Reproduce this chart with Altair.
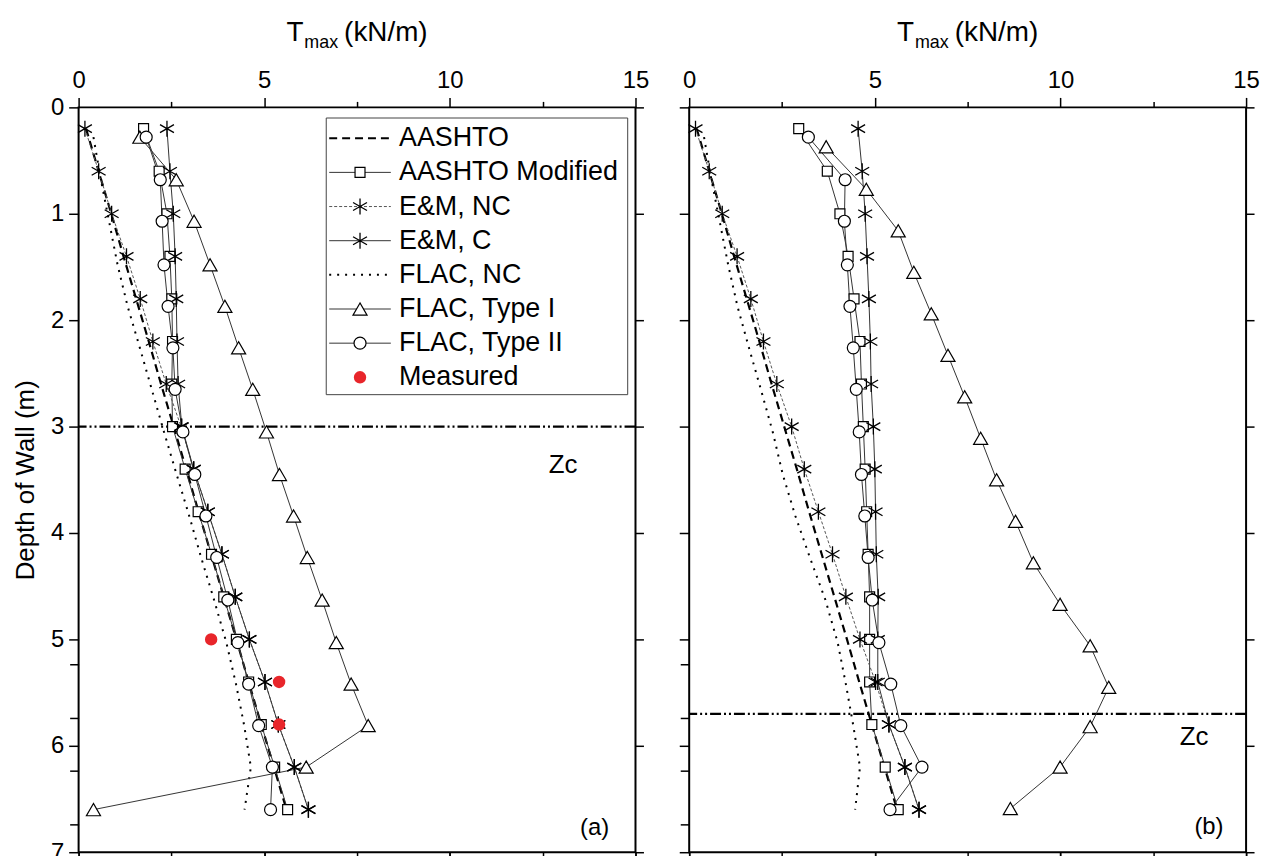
import altair as alt
import pandas as pd

FONT = "Liberation Sans"
W, H = 560, 749

# ---------------- data ----------------
depth_std = [0.2, 0.6, 1.0, 1.4, 1.8, 2.2, 2.6, 3.0, 3.4, 3.8, 4.2, 4.6, 5.0, 5.4, 5.8, 6.2, 6.6]
depth_flac = [0.28, 0.68, 1.07, 1.48, 1.87, 2.26, 2.65, 3.05, 3.45, 3.84, 4.23, 4.63, 5.03, 5.42, 5.81, 6.2, 6.6]
depth_tri_b = [0.37, 0.77, 1.16, 1.55, 1.94, 2.33, 2.72, 3.11, 3.5, 3.89, 4.28, 4.67, 5.06, 5.45, 5.82, 6.2, 6.59]
depth_meas = [5.0, 5.4, 5.8]

aashto = [0.2, 0.54, 0.88, 1.21, 1.55, 1.89, 2.22, 2.56, 2.9, 3.23, 3.57, 3.91, 4.25, 4.58, 4.92, 5.26, 5.6]
em_nc = [0.17, 0.54, 0.89, 1.29, 1.66, 2.0, 2.36, 2.76, 3.1, 3.48, 3.86, 4.22, 4.6, 5.02, 5.38, 5.81, 6.19]

aashto_mod_a = [1.75, 2.17, 2.38, 2.46, 2.51, 2.53, 2.51, 2.53, 2.87, 3.22, 3.58, 3.91, 4.25, 4.58, 4.92, 5.28, 5.63]
em_c_a = [2.38, 2.46, 2.55, 2.6, 2.63, 2.65, 2.68, 2.78, 3.1, 3.48, 3.86, 4.22, 4.6, 5.02, 5.38, 5.81, 6.19]
flac_nc_a = [0.40, 0.60, 0.82, 1.05, 1.32, 1.65, 1.97, 2.30, 2.64, 2.98, 3.30, 3.65, 3.98, 4.24, 4.46, 4.64, 4.47]
flac_t1_a = [1.65, 2.63, 3.11, 3.54, 3.94, 4.31, 4.69, 5.06, 5.41, 5.79, 6.16, 6.56, 6.94, 7.34, 7.8, 6.13, 0.4]
flac_t2_a = [1.82, 2.2, 2.25, 2.3, 2.41, 2.54, 2.6, 2.81, 3.13, 3.43, 3.72, 4.02, 4.29, 4.58, 4.85, 5.22, 5.17]
measured_a = [3.57, 5.4, 5.4]

aashto_mod_b = [2.95, 3.72, 4.06, 4.28, 4.44, 4.6, 4.64, 4.69, 4.74, 4.78, 4.82, 4.86, 4.86, 4.86, 4.92, 5.28, 5.63]
em_c_b = [4.55, 4.66, 4.74, 4.79, 4.84, 4.88, 4.9, 4.96, 5.0, 5.02, 5.04, 5.09, 5.08, 5.08, 5.38, 5.81, 6.19]
flac_nc_b = [0.40, 0.60, 0.82, 1.05, 1.30, 1.61, 1.93, 2.25, 2.52, 2.86, 3.25, 3.67, 4.0, 4.22, 4.42, 4.6, 4.47]
flac_t1_b = [3.69, 4.77, 5.63, 6.05, 6.52, 6.97, 7.42, 7.85, 8.28, 8.79, 9.27, 9.99, 10.8, 11.3, 10.8, 9.99, 8.65]
flac_t2_b = [3.21, 4.2, 4.18, 4.26, 4.33, 4.42, 4.5, 4.58, 4.64, 4.73, 4.82, 4.93, 5.11, 5.43, 5.7, 6.27, 5.41]

zc_depth = [3.0, 5.7]

x_all = [0, 2.5, 5, 7.5, 10, 12.5, 15]
x_major = [0, 5, 10, 15]
y_all = [0, 0.5, 1, 1.5, 2, 2.5, 3, 3.5, 4, 4.5, 5, 5.5, 6, 6.5, 7]
y_major = [0, 1, 2, 3, 4, 5, 6, 7]

legend_labels = ["AASHTO", "AASHTO Modified", "E&M, NC", "E&M, C",
                 "FLAC, NC", "FLAC, Type I", "FLAC, Type II", "Measured"]
title_parts = ["T", "max", "(kN/m)"]
y_title = "Depth of Wall (m)"
zc_text = ["Zc"]
panel_tags = ["(a)", "(b)"]

# ---------------- styles / layout ----------------
ASTER = "M0,-1L0,1M-0.87,-0.5L0.87,0.5M-0.87,0.5L0.87,-0.5"
STY = {
    "AASHTO": dict(dash=[8, 5], width=2.2, color="#000000", shape=None),
    "AASHTO Modified": dict(dash=None, width=1, color="#333333", shape="square"),
    "E&M, NC": dict(dash=[3, 2], width=1, color="#555555", shape=ASTER),
    "E&M, C": dict(dash=None, width=1, color="#333333", shape=ASTER),
    "FLAC, NC": dict(dash=[2, 6], width=2, color="#000000", shape=None),
    "FLAC, Type I": dict(dash=None, width=1, color="#333333", shape="triangle-up"),
    "FLAC, Type II": dict(dash=None, width=1, color="#333333", shape="circle"),
}
SIZE = {"square": 100, "circle": 145, "triangle-up": 200, ASTER: 260}
RED = "#e8262b"

XS = alt.Scale(domain=[0, 15], nice=False, zero=False)
YS = alt.Scale(domain=[0, 7], reverse=True, nice=False, zero=False)

LEG_ROW0, LEG_STEP = 0.29, 0.321
LEG_X1, LEG_X2, LEG_XM, LEG_XT = 6.75, 8.41, 7.58, 8.63
LEG_BOX = dict(x1=6.67, x2=14.79, d1=0.10, d2=2.70)
TITLE_SPECS = [(28, 209, -67), (18, 227, -60), (28, 267, -67)]  # font size, x px, y px


def df_of(depths, vals):
    return pd.DataFrame({"d": depths, "x": vals, "i": list(range(len(vals)))})


def XY(df_chart):
    return df_chart.encode(x=alt.X("x:Q", scale=XS, axis=None),
                           y=alt.Y("d:Q", scale=YS, axis=None))


def line_layer(df, st):
    kw = dict(stroke=st["color"], strokeWidth=st["width"])
    if st["dash"]:
        kw["strokeDash"] = st["dash"]
    return alt.Chart(df).mark_line(**kw).encode(
        x=alt.X("x:Q", scale=XS, axis=None),
        y=alt.Y("d:Q", scale=YS, axis=None),
        order="i:Q")


def point_layer(df, st):
    shp = st["shape"]
    if shp == ASTER:
        m = alt.Chart(df).mark_point(shape=shp, size=SIZE[shp], filled=False,
                                     stroke="#000000", strokeWidth=1.3, opacity=1)
    else:
        m = alt.Chart(df).mark_point(shape=shp, size=SIZE[shp], filled=True,
                                     fill="#ffffff", stroke="#000000",
                                     strokeWidth=1.2, opacity=1)
    return XY(m)


def cond(test, a, b):
    return {"condition": {"test": test, "value": a}, "value": b}


def axis_carriers(show_labels):
    base = pd.DataFrame({"x": [0.0], "d": [0.0]})
    common = dict(domain=False, grid=False, title=None, labelFlush=False, labelOverlap=False)
    ya_kw = dict(common)
    if show_labels:
        ya_kw.update(title=y_title, titleFontSize=26, titleFontWeight="normal",
                     titlePadding=12)
    c1 = alt.Chart(base).mark_point(opacity=0).encode(
        x=alt.X("x:Q", scale=XS, axis=alt.Axis(
            orient="top", values=x_all, tickSize=cond("datum.value % 5 === 0", 10, 6),
            labelExpr="datum.value % 5 === 0 ? datum.label : ''", format="d",
            labelFontSize=24, labelPadding=5, **common)),
        y=alt.Y("d:Q", scale=YS, axis=alt.Axis(
            orient="left", values=y_all, tickSize=cond("datum.value % 1 === 0", 10, 6),
            labelExpr="datum.value % 1 === 0 ? datum.label : ''", format="d",
            labels=show_labels, labelFontSize=24, labelPadding=5, **ya_kw)))
    c2 = alt.Chart(base).mark_point(opacity=0).encode(
        x=alt.X("x:Q", scale=XS, axis=alt.Axis(
            orient="bottom", position=0, values=x_major, tickSize=8, labels=False, **common)),
        y=alt.Y("d:Q", scale=YS, axis=alt.Axis(
            orient="right", position=0, values=y_major, tickSize=8, labels=False, **common)))
    c3 = alt.Chart(base).mark_point(opacity=0).encode(
        x=alt.X("x:Q", scale=XS, axis=alt.Axis(
            orient="bottom", values=x_all, tickSize=cond("datum.value % 5 === 0", 10, 6),
            labels=False, **common)),
        y=alt.Y("d:Q", scale=YS, axis=alt.Axis(
            orient="left", position=W, values=y_all, tickSize=9, labels=False, **common)))
    return [c1, c2, c3]


def title_layers():
    out = []
    for txt, (fs, px, py) in zip(title_parts, TITLE_SPECS):
        out.append(alt.Chart(pd.DataFrame({"t": [txt]})).mark_text(
            font=FONT, fontSize=fs, align="left", baseline="alphabetic", color="#000000"
        ).encode(x=alt.value(px), y=alt.value(py), text="t:N"))
    return out


def text_at(txt, xv, dv, fs):
    return alt.Chart(pd.DataFrame({"t": [txt], "x": [xv], "d": [dv]})).mark_text(
        font=FONT, fontSize=fs, align="center", baseline="middle", color="#000000"
    ).encode(x=alt.X("x:Q", scale=XS, axis=None), y=alt.Y("d:Q", scale=YS, axis=None),
             text="t:N")


def legend_layers():
    out = []
    box = pd.DataFrame({k: [v] for k, v in LEG_BOX.items()})
    out.append(alt.Chart(box).mark_rect(fill="#ffffff", stroke="#444444", strokeWidth=1).encode(
        x=alt.X("x1:Q", scale=XS, axis=None), x2="x2:Q",
        y=alt.Y("d1:Q", scale=YS, axis=None), y2="d2:Q"))
    for k, lab in enumerate(legend_labels):
        dv = LEG_ROW0 + LEG_STEP * k
        if lab in STY:
            st = STY[lab]
            kw = dict(stroke=st["color"], strokeWidth=st["width"])
            if st["dash"]:
                kw["strokeDash"] = st["dash"]
            seg = pd.DataFrame({"x": [LEG_X1], "x2": [LEG_X2], "d": [dv]})
            out.append(alt.Chart(seg).mark_rule(**kw).encode(
                x=alt.X("x:Q", scale=XS, axis=None), x2="x2:Q",
                y=alt.Y("d:Q", scale=YS, axis=None)))
            if st["shape"]:
                out.append(point_layer(pd.DataFrame({"x": [LEG_XM], "d": [dv]}), st))
        else:
            out.append(XY(alt.Chart(pd.DataFrame({"x": [LEG_XM], "d": [dv]})).mark_point(
                shape="circle", size=110, filled=True, fill=RED, stroke=RED, opacity=1)))
        lt = pd.DataFrame({"t": [lab], "x": [LEG_XT], "d": [dv]})
        out.append(alt.Chart(lt).mark_text(
            font=FONT, fontSize=27, align="left", baseline="middle", color="#000000"
        ).encode(x=alt.X("x:Q", scale=XS, axis=None), y=alt.Y("d:Q", scale=YS, axis=None),
                 text="t:N"))
    return out


def panel(series, zc, tag, zc_pos, tag_pos, show_labels, measured=None, legend=False):
    layers = axis_carriers(show_labels)
    layers.append(alt.Chart(pd.DataFrame({"d": [zc]})).mark_rule(
        stroke="#000000", strokeWidth=2.2, strokeDash=[11, 3, 2, 3, 2, 3]
    ).encode(y=alt.Y("d:Q", scale=YS, axis=None)))
    for name, df in series:
        layers.append(line_layer(df, STY[name]))
    for name, df in series:
        if STY[name]["shape"]:
            layers.append(point_layer(df, STY[name]))
    if measured is not None:
        layers.append(XY(alt.Chart(measured).mark_point(
            shape="circle", size=110, filled=True, fill=RED, stroke=RED, opacity=1)))
    layers.append(text_at(zc_text[0], zc_pos[0], zc_pos[1], 26))
    layers.append(text_at(tag, tag_pos[0], tag_pos[1], 24))
    layers += title_layers()
    if legend:
        layers += legend_layers()
    return alt.layer(*layers).resolve_axis(x="independent", y="independent").properties(
        width=W, height=H)


series_a = [
    ("AASHTO", df_of(depth_std, aashto)),
    ("AASHTO Modified", df_of(depth_std, aashto_mod_a)),
    ("E&M, NC", df_of(depth_std, em_nc)),
    ("E&M, C", df_of(depth_std, em_c_a)),
    ("FLAC, NC", df_of(depth_flac, flac_nc_a)),
    ("FLAC, Type I", df_of(depth_flac, flac_t1_a)),
    ("FLAC, Type II", df_of(depth_flac, flac_t2_a)),
]
series_b = [
    ("AASHTO", df_of(depth_std, aashto)),
    ("AASHTO Modified", df_of(depth_std, aashto_mod_b)),
    ("E&M, NC", df_of(depth_std, em_nc)),
    ("E&M, C", df_of(depth_std, em_c_b)),
    ("FLAC, NC", df_of(depth_flac, flac_nc_b)),
    ("FLAC, Type I", df_of(depth_tri_b, flac_t1_b)),
    ("FLAC, Type II", df_of(depth_flac, flac_t2_b)),
]

pa = panel(series_a, zc_depth[0], panel_tags[0], (13.05, 3.36), (13.9, 6.77), True,
           measured=df_of(depth_meas, measured_a), legend=True)
pb = panel(series_b, zc_depth[1], panel_tags[1], (13.6, 5.92), (14.0, 6.76), False)

chart = alt.hconcat(pa, pb, spacing=27).properties(
    padding={"left": 3, "top": 6, "right": 0, "bottom": 0}
).configure_view(stroke="#000000", strokeWidth=2).configure_axis(
    labelFont=FONT, titleFont=FONT, labelColor="#000000", titleColor="#000000",
    tickColor="#000000", tickWidth=1.5
)

chart.save("out.html", embed_options={"renderer": "svg", "actions": False})
